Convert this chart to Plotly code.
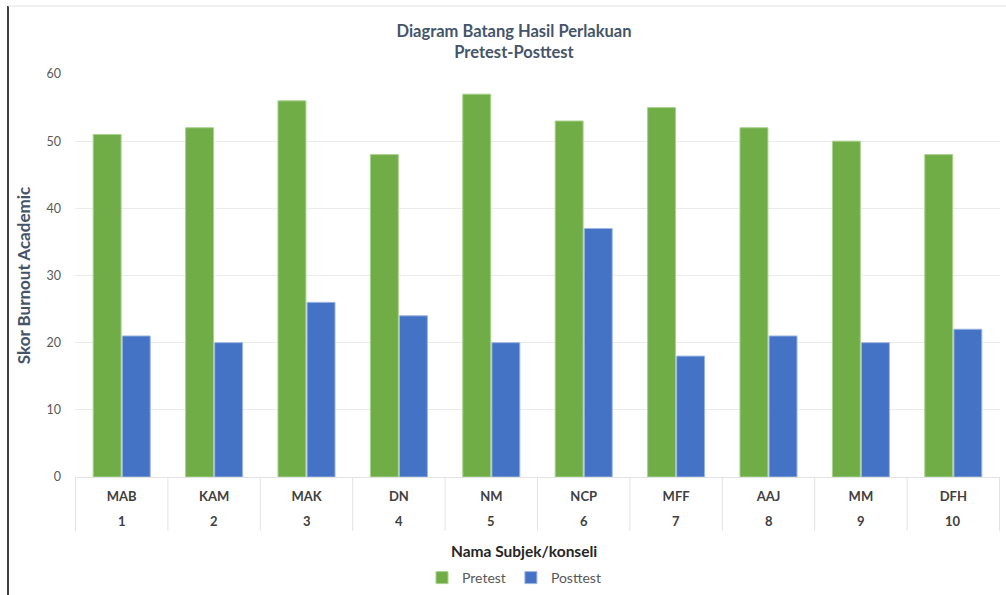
import plotly.graph_objects as go

subjects = ["MAB", "KAM", "MAK", "DN", "NM", "NCP", "MFF", "AAJ", "MM", "DFH"]
numbers = ["1", "2", "3", "4", "5", "6", "7", "8", "9", "10"]
pretest = [51, 52, 56, 48, 57, 53, 55, 52, 50, 48]
posttest = [21, 20, 26, 24, 20, 37, 18, 21, 20, 22]

fig = go.Figure()
fig.add_trace(go.Bar(x=subjects, y=pretest, name="Pretest",
                     marker=dict(color="#70AD47", line=dict(color="#A9D18E", width=1))))
fig.add_trace(go.Bar(x=subjects, y=posttest, name="Posttest",
                     marker=dict(color="#4472C4", line=dict(color="#9DB6E3", width=1))))

W, H = 1006, 595
L, R, T, B = 75, 6, 74, 118
pw = W - L - R
ph = H - T - B

def py(px_from_top):
    """paper y coordinate for a pixel row measured from the top of the figure"""
    return (H - B - px_from_top) / ph

fig.update_layout(
    width=W, height=H,
    margin=dict(l=L, r=R, t=T, b=B, autoexpand=False),
    paper_bgcolor="white", plot_bgcolor="white",
    font=dict(family="Lato, 'Open Sans', sans-serif", color="#404040"),
    title=dict(text="<b>Diagram Batang Hasil Perlakuan<br>Pretest-Posttest</b>",
               x=514 / W, xref="container", xanchor="center",
               y=1 - 37 / H, yref="container", yanchor="middle",
               font=dict(size=16.5, color="#44546A")),
    barmode="group", bargap=0.37, bargroupgap=0.04,
    showlegend=True,
    legend=dict(orientation="h", x=(514 - L) / pw, xanchor="center", y=py(578),
                yanchor="middle", font=dict(size=14, color="#595959"), itemwidth=30),
    xaxis=dict(type="category", showgrid=False, showline=True, linecolor="#E3E3E3",
               ticks="", automargin=False, ticklabelstandoff=7,
               tickfont=dict(size=13, color="#404040", weight="bold")),
    yaxis=dict(range=[0, 60], dtick=10, showgrid=True, gridcolor="#EBEBEB",
               zeroline=False, showline=False, ticks="", automargin=False,
               ticklabelstandoff=13,
               tickfont=dict(size=12.5, color="#595959"),
               title=dict(text="<b>Skor Burnout Academic</b>", standoff=11,
                          font=dict(size=17, color="#44546A"))),
)

# second row of category labels (numbers) under the names
for s, n in zip(subjects, numbers):
    fig.add_annotation(x=s, xref="x", y=py(521), yref="paper", text=f"<b>{n}</b>",
                       showarrow=False, yanchor="middle",
                       font=dict(size=13, color="#404040"))

# category divider lines of the table-like axis
for i in range(len(subjects) + 1):
    fig.add_shape(type="line", xref="x", yref="paper",
                  x0=i - 0.5, x1=i - 0.5, y0=0, y1=py(531),
                  line=dict(color="#E3E3E3", width=1))

# x axis title
fig.add_annotation(x=(524 - L) / pw, xref="paper", y=py(551), yref="paper",
                   text="<b>Nama Subjek/konseli</b>", showarrow=False, yanchor="middle",
                   font=dict(size=15.5, color="#262626"))

# chart frame lines (left black line, top gray line)
fig.add_shape(type="line", xref="paper", yref="paper",
              x0=(8 - L) / pw, x1=(8 - L) / pw, y0=py(6), y1=py(H),
              line=dict(color="#000000", width=1.5))
fig.add_shape(type="line", xref="paper", yref="paper",
              x0=(8 - L) / pw, x1=(W - L) / pw, y0=py(6), y1=py(6),
              line=dict(color="#E0E0E0", width=1))

fig.write_html("out.html")
